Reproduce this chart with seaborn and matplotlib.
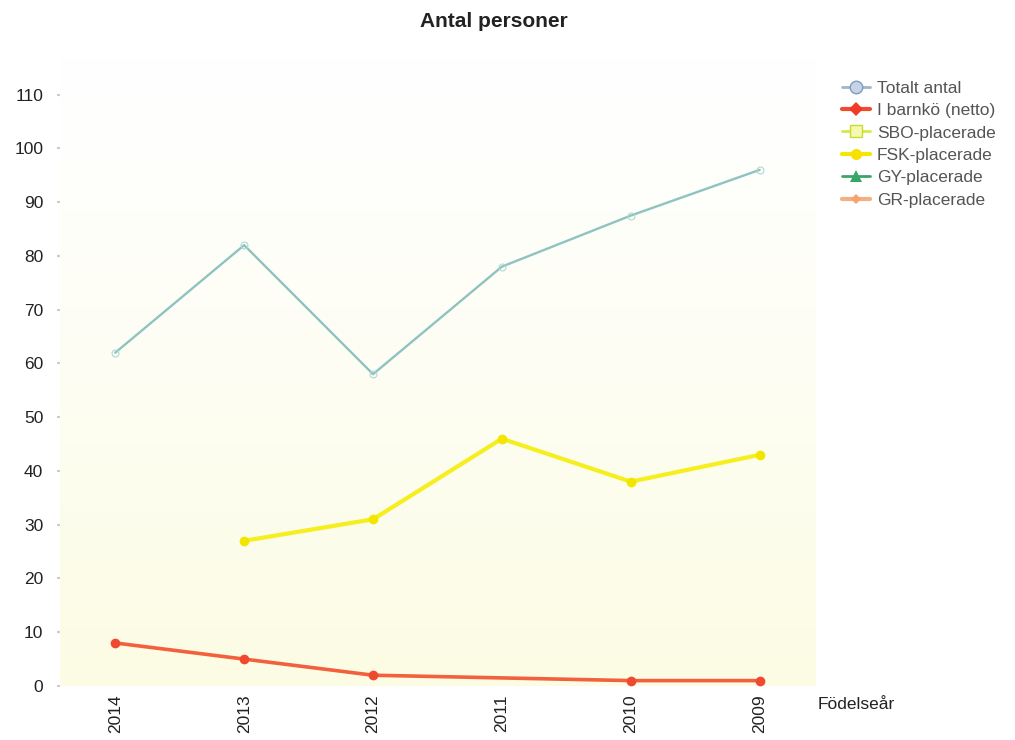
import numpy as np
import pandas as pd
import matplotlib
matplotlib.use("Agg")
import matplotlib.pyplot as plt
from matplotlib.lines import Line2D
import seaborn as sns

years = [2014, 2013, 2012, 2011, 2010, 2009]
totalt = [62, 82, 58, 78, 87.5, 96]
barnko = [8, 5, 2, np.nan, 1, 1]
fsk = [np.nan, 27, 31, 46, 38, 43]
yticks = list(range(0, 111, 10))
series_names = ["Totalt antal", "I barnkö (netto)", "SBO-placerade",
                 "FSK-placerade", "GY-placerade", "GR-placerade"]

sns.set_theme(style="white")
plt.rcParams['font.family'] = ['Liberation Sans', 'DejaVu Sans']

fig = plt.figure(figsize=(10.15, 7.4), dpi=100)
ax = fig.add_axes([0.059, 0.073, 0.744, 0.85])

# gradient background
grad = np.linspace(0, 1, 256).reshape(-1, 1)
top = np.array([1.0, 1.0, 1.0])
bot = np.array([0xfc, 0xfc, 0xe4]) / 255.0
img = top + (bot - top) * grad[:, :, None] ** 1.2
ax.imshow(img, aspect="auto", extent=[0, 1, 0, 1], transform=ax.transAxes,
          zorder=0, origin="upper")

df_t = pd.DataFrame({"year": years, "v": totalt})
df_b = pd.DataFrame({"year": years, "v": barnko}).dropna()
df_f = pd.DataFrame({"year": years, "v": fsk}).dropna()

sns.lineplot(data=df_t, x="year", y="v", ax=ax, color="#8fc3c0", lw=1.7,
             marker="o", markersize=5, markerfacecolor="none",
             markeredgecolor="#a8d8d4", zorder=3)
sns.lineplot(data=df_f, x="year", y="v", ax=ax, color="#f6ee1e", lw=3.0,
             marker="o", markersize=7, markeredgewidth=0,
             markerfacecolor="#f2e600", zorder=3)
sns.lineplot(data=df_b, x="year", y="v", ax=ax, color="#f2603e", lw=2.6,
             marker="o", markersize=7, markeredgewidth=0,
             markerfacecolor="#ef4a30", zorder=4)

ax.set_xlim(2014.43, 2008.57)
ax.set_ylim(0, 117)
ax.set_xticks(years)
ax.set_xticklabels([str(y) for y in years], rotation=90, fontsize=12.5,
                   color="#222222")
ax.set_yticks(yticks)
ax.set_yticklabels([str(v) for v in yticks], fontsize=12.5, color="#222222")
ax.tick_params(axis="y", length=2, width=1.5, color="#cccccc", pad=10,
               left=True)
ax.tick_params(axis="x", length=0, pad=6)
for s in ax.spines.values():
    s.set_visible(False)
ax.set_xlabel("")
ax.set_ylabel("")
ax.grid(False)

fig.text(0.487, 0.971, "Antal personer", ha="center", va="center",
         fontsize=15, fontweight="bold", color="#222222")
fig.text(0.806, 0.048, "Födelseår", ha="left", va="center", fontsize=12.5,
         color="#222222")

handles = [
    Line2D([], [], color="#9fb6cc", lw=2, marker="o", markersize=9,
           markerfacecolor="#c4d4e6", markeredgecolor="#7f9cbc"),
    Line2D([], [], color="#f04a30", lw=3, marker="D", markersize=7,
           markerfacecolor="#f03a28", markeredgewidth=0),
    Line2D([], [], color="#d8e84a", lw=2, marker="s", markersize=8,
           markerfacecolor="#f4f8b0", markeredgecolor="#c8dc30"),
    Line2D([], [], color="#f4e800", lw=3, marker="o", markersize=8,
           markerfacecolor="#f8e000", markeredgewidth=0),
    Line2D([], [], color="#3aa56a", lw=2, marker="^", markersize=9,
           markerfacecolor="#3aa56a", markeredgewidth=0),
    Line2D([], [], color="#f4b080", lw=3, marker="D", markersize=5,
           markerfacecolor="#f4a470", markeredgewidth=0),
]
leg = fig.legend(handles, series_names, loc="upper left",
                 bbox_to_anchor=(0.821, 0.903), frameon=False,
                 fontsize=12.5, handlelength=1.6, handletextpad=0.4,
                 labelspacing=0.42, borderpad=0)
for t in leg.get_texts():
    t.set_color("#555555")

fig.savefig("out.png", dpi=100)
